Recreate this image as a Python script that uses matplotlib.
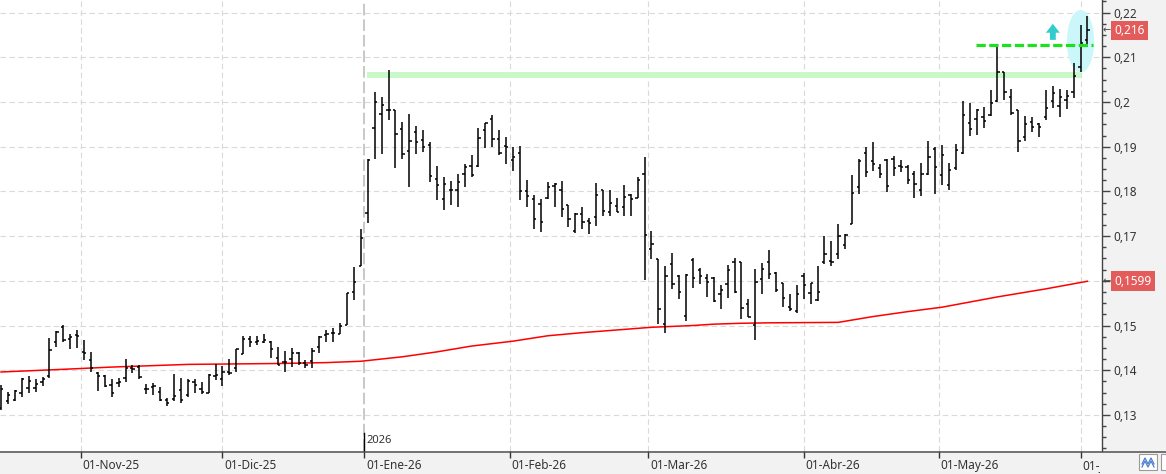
import matplotlib

matplotlib.use("Agg")

import matplotlib.pyplot as plt
import numpy as np
import pandas as pd
from matplotlib.lines import Line2D
from matplotlib.patches import Ellipse, FancyArrow, Rectangle
from matplotlib.ticker import FixedLocator, FuncFormatter, MultipleLocator
from matplotlib.transforms import (Bbox, ScaledTranslation, TransformedBbox,
                                   blended_transform_factory)

plt.rcParams["font.family"] = ["Noto Sans", "DejaVu Sans"]

# trading calendar (Spanish market holidays removed)
HOLIDAYS = ["2025-12-25", "2025-12-26", "2026-01-01", "2026-04-03",
            "2026-04-06", "2026-05-01"]
dates = pd.bdate_range("2025-10-16", "2026-06-02", freq="C", holidays=HOLIDAYS)

opens = [
    0.1315, 0.1330, 0.1333, 0.1349, 0.1360, 0.1360, 0.1374, 0.1387, 0.1464, 0.1497,
    0.1470, 0.1479, 0.1441, 0.1423, 0.1393, 0.1387, 0.1367, 0.1371, 0.1382, 0.1406,
    0.1408, 0.1357, 0.1362, 0.1352, 0.1333, 0.1336, 0.1356, 0.1345, 0.1374, 0.1358,
    0.1350, 0.1387, 0.1380, 0.1396, 0.1405, 0.1436, 0.1470, 0.1464, 0.1464, 0.1464,
    0.1427, 0.1419, 0.1424, 0.1438, 0.1417, 0.1421, 0.1453, 0.1479, 0.1483, 0.1481,
    0.1501, 0.1576, 0.1633, 0.1751, 0.1941, 0.1973, 0.1982, 0.1982, 0.1939, 0.1890,
    0.1934, 0.1915, 0.1904, 0.1828, 0.1782, 0.1803, 0.1803, 0.1840, 0.1857, 0.1857,
    0.1937, 0.1961, 0.1917, 0.1902, 0.1870, 0.1887, 0.1802, 0.1782, 0.1772, 0.1785,
    0.1812, 0.1803, 0.1770, 0.1712, 0.1749, 0.1734, 0.1742, 0.1803, 0.1753, 0.1767,
    0.1764, 0.1792, 0.1786, 0.1840, 0.1671, 0.1649, 0.1503, 0.1637, 0.1611, 0.1521,
    0.1646, 0.1624, 0.1606, 0.1606, 0.1570, 0.1592, 0.1641, 0.1641, 0.1547, 0.1501,
    0.1603, 0.1643, 0.1618, 0.1594, 0.1542, 0.1533, 0.1611, 0.1573, 0.1557, 0.1641,
    0.1645, 0.1659, 0.1680, 0.1727, 0.1810, 0.1885, 0.1868, 0.1852, 0.1870, 0.1872,
    0.1857, 0.1854, 0.1839, 0.1803, 0.1840, 0.1895, 0.1837, 0.1814, 0.1852, 0.1887,
    0.1952, 0.1961, 0.1966, 0.1972, 0.2003, 0.2066, 0.2011, 0.1982, 0.1922, 0.1955,
    0.1951, 0.1966, 0.2003, 0.1992, 0.2004, 0.2023, 0.2078, 0.2139,
]
highs = [
    0.1367, 0.1352, 0.1356, 0.1382, 0.1387, 0.1380, 0.1384, 0.1471, 0.1488, 0.1501,
    0.1480, 0.1490, 0.1468, 0.1441, 0.1397, 0.1389, 0.1380, 0.1382, 0.1424, 0.1412,
    0.1412, 0.1369, 0.1372, 0.1362, 0.1337, 0.1392, 0.1382, 0.1380, 0.1380, 0.1374,
    0.1392, 0.1414, 0.1409, 0.1425, 0.1447, 0.1477, 0.1477, 0.1477, 0.1481, 0.1466,
    0.1453, 0.1443, 0.1450, 0.1441, 0.1423, 0.1449, 0.1477, 0.1490, 0.1494, 0.1506,
    0.1572, 0.1630, 0.1715, 0.1872, 0.2023, 0.2012, 0.2072, 0.1982, 0.1956, 0.1973,
    0.1946, 0.1937, 0.1911, 0.1857, 0.1833, 0.1824, 0.1839, 0.1861, 0.1881, 0.1941,
    0.1954, 0.1971, 0.1937, 0.1921, 0.1899, 0.1902, 0.1826, 0.1792, 0.1782, 0.1822,
    0.1818, 0.1823, 0.1770, 0.1752, 0.1764, 0.1740, 0.1818, 0.1803, 0.1803, 0.1785,
    0.1814, 0.1794, 0.1833, 0.1878, 0.1711, 0.1649, 0.1633, 0.1662, 0.1612, 0.1615,
    0.1651, 0.1629, 0.1615, 0.1609, 0.1591, 0.1635, 0.1650, 0.1641, 0.1559, 0.1626,
    0.1639, 0.1669, 0.1619, 0.1596, 0.1570, 0.1591, 0.1618, 0.1596, 0.1633, 0.1700,
    0.1690, 0.1727, 0.1705, 0.1837, 0.1872, 0.1900, 0.1910, 0.1861, 0.1872, 0.1879,
    0.1870, 0.1859, 0.1846, 0.1864, 0.1913, 0.1899, 0.1904, 0.1864, 0.1905, 0.2003,
    0.1997, 0.1984, 0.1988, 0.2027, 0.2128, 0.2066, 0.2029, 0.1982, 0.1969, 0.1966,
    0.1952, 0.2027, 0.2036, 0.2029, 0.2027, 0.2087, 0.2172, 0.2193,
]
lows = [
    0.1311, 0.1324, 0.1332, 0.1341, 0.1348, 0.1352, 0.1365, 0.1382, 0.1451, 0.1464,
    0.1447, 0.1449, 0.1423, 0.1397, 0.1354, 0.1363, 0.1341, 0.1362, 0.1374, 0.1393,
    0.1380, 0.1346, 0.1345, 0.1330, 0.1321, 0.1330, 0.1326, 0.1341, 0.1350, 0.1347,
    0.1350, 0.1378, 0.1365, 0.1389, 0.1396, 0.1436, 0.1452, 0.1456, 0.1461, 0.1427,
    0.1412, 0.1397, 0.1408, 0.1412, 0.1404, 0.1404, 0.1438, 0.1462, 0.1462, 0.1480,
    0.1501, 0.1557, 0.1632, 0.1730, 0.1872, 0.1884, 0.1960, 0.1853, 0.1872, 0.1810,
    0.1883, 0.1889, 0.1822, 0.1781, 0.1758, 0.1770, 0.1764, 0.1810, 0.1832, 0.1855,
    0.1896, 0.1900, 0.1881, 0.1861, 0.1846, 0.1781, 0.1764, 0.1717, 0.1710, 0.1782,
    0.1764, 0.1743, 0.1721, 0.1706, 0.1715, 0.1704, 0.1723, 0.1746, 0.1746, 0.1753,
    0.1746, 0.1746, 0.1785, 0.1602, 0.1648, 0.1503, 0.1484, 0.1582, 0.1559, 0.1511,
    0.1585, 0.1592, 0.1564, 0.1552, 0.1538, 0.1561, 0.1573, 0.1515, 0.1518, 0.1468,
    0.1570, 0.1604, 0.1576, 0.1542, 0.1533, 0.1529, 0.1559, 0.1548, 0.1555, 0.1637,
    0.1634, 0.1649, 0.1671, 0.1726, 0.1794, 0.1832, 0.1846, 0.1829, 0.1798, 0.1835,
    0.1844, 0.1816, 0.1785, 0.1790, 0.1837, 0.1794, 0.1814, 0.1803, 0.1848, 0.1884,
    0.1924, 0.1926, 0.1941, 0.1969, 0.2001, 0.2004, 0.1972, 0.1889, 0.1913, 0.1932,
    0.1921, 0.1960, 0.1987, 0.1967, 0.1984, 0.2010, 0.2066, 0.2123,
]
closes = [
    0.1358, 0.1345, 0.1353, 0.1380, 0.1376, 0.1369, 0.1380, 0.1445, 0.1485, 0.1468,
    0.1474, 0.1477, 0.1439, 0.1404, 0.1387, 0.1365, 0.1348, 0.1374, 0.1406, 0.1403,
    0.1384, 0.1358, 0.1364, 0.1333, 0.1326, 0.1342, 0.1333, 0.1376, 0.1367, 0.1352,
    0.1389, 0.1389, 0.1396, 0.1394, 0.1447, 0.1470, 0.1464, 0.1465, 0.1468, 0.1447,
    0.1412, 0.1419, 0.1438, 0.1417, 0.1412, 0.1443, 0.1475, 0.1481, 0.1484, 0.1499,
    0.1572, 0.1597, 0.1695, 0.1870, 0.1999, 0.1993, 0.1982, 0.1928, 0.1883, 0.1913,
    0.1911, 0.1900, 0.1835, 0.1814, 0.1817, 0.1803, 0.1820, 0.1855, 0.1837, 0.1919,
    0.1952, 0.1917, 0.1887, 0.1899, 0.1876, 0.1801, 0.1790, 0.1738, 0.1731, 0.1810,
    0.1817, 0.1760, 0.1738, 0.1749, 0.1731, 0.1730, 0.1792, 0.1756, 0.1773, 0.1754,
    0.1787, 0.1782, 0.1826, 0.1702, 0.1682, 0.1536, 0.1611, 0.1592, 0.1574, 0.1613,
    0.1606, 0.1611, 0.1597, 0.1555, 0.1579, 0.1624, 0.1574, 0.1540, 0.1520, 0.1597,
    0.1626, 0.1615, 0.1579, 0.1561, 0.1538, 0.1570, 0.1591, 0.1594, 0.1574, 0.1659,
    0.1643, 0.1701, 0.1702, 0.1797, 0.1868, 0.1843, 0.1861, 0.1840, 0.1812, 0.1853,
    0.1855, 0.1826, 0.1816, 0.1840, 0.1876, 0.1854, 0.1881, 0.1848, 0.1893, 0.1972,
    0.1940, 0.1981, 0.1958, 0.1997, 0.2066, 0.2022, 0.1976, 0.1913, 0.1950, 0.1943,
    0.1943, 0.1986, 0.2021, 0.2011, 0.2013, 0.2059, 0.2131, 0.2160,
]

# moving average (bar number, value)
ma_bar = [0, 9, 16, 27, 40, 47, 52, 58, 63, 68, 74, 79, 84, 89, 94, 100, 103,
          107, 111, 121, 126, 131, 136, 144, 151, 157]
ma_val = [0.1396, 0.1402, 0.1407, 0.1413, 0.1415, 0.1417, 0.1420, 0.1430,
          0.1441, 0.1454, 0.1465, 0.1477, 0.1484, 0.1490, 0.1496, 0.1500,
          0.1503, 0.1505, 0.1506, 0.1507, 0.1520, 0.1531, 0.1541, 0.1564,
          0.1582, 0.1599]

resistance_band = (0.2054, 0.2068)
breakout_level = 0.2128
y_ticks = [0.13, 0.14, 0.15, 0.16, 0.17, 0.18, 0.19, 0.20, 0.21, 0.22]
MESES = {1: "Ene", 2: "Feb", 3: "Mar", 4: "Abr", 5: "May", 6: "Jun",
         7: "Jul", 8: "Ago", 9: "Sep", 10: "Oct", 11: "Nov", 12: "Dic"}

assert len(dates) == len(opens) == len(highs) == len(lows) == len(closes)

W, H = 1166, 474
BG = "#f2f2f2"
fig = plt.figure(figsize=(W / 100, H / 100), dpi=100, facecolor=BG)
ax = fig.add_axes([0, 23 / H, 1102 / W, 451 / H])
ax.set_facecolor("white")

x = np.arange(len(dates))
o, hi, lo, c = map(np.asarray, (opens, highs, lows, closes))

# month ticks: on the 1st if it trades, else between bars
month_starts = pd.date_range("2025-11-01", "2026-06-01", freq="MS")
tick_pos, tick_lab = [], []
for m in month_starts:
    i = dates.searchsorted(m)
    tick_pos.append(i if dates[i] == m else i - 0.5)
    tick_lab.append(f"01-{MESES[m.month]}-{m.strftime('%y')}")
year_pos = tick_pos[[m.month for m in month_starts].index(1)]

grid_kw = dict(color="#dadada", lw=0.8, linestyle=(0, (5, 3)), zorder=0)
for yv in y_ticks:
    ax.axhline(yv, **grid_kw)
for p in tick_pos:
    if p != year_pos:
        ax.axvline(p, **grid_kw)
ax.axvline(year_pos, color="#c8c8c8", lw=1.4, linestyle=(0, (6, 2)), zorder=0)

# resistance band, breakout highlight
ax.fill_between([52.9, 156.0], *resistance_band, color="#c9f9c9", lw=0, zorder=1)
ax.add_patch(Ellipse((156.0, 0.21358), 3.95, 0.0140, fc="#ccf7fa", ec="none",
                     zorder=1))

# OHLC bars
tw = 0.33
ax.vlines(x, lo, hi, color="black", lw=1.1, zorder=3)
ax.hlines(o, x - tw, x, color="black", lw=1.1, zorder=3)
ax.hlines(c, x, x + tw, color="black", lw=1.1, zorder=3)

ax.plot(ma_bar, ma_val, color="#ff0000", lw=1.1, zorder=2)

ax.plot([140.9, 157.8], [breakout_level] * 2, color="#1ee01e", lw=2.3,
        dashes=(2.9, 1.1), zorder=4)
ax.add_patch(FancyArrow(152.0, 0.2139, 0, 0.0036, width=0.85, head_width=2.0,
                        head_length=0.0020, length_includes_head=True,
                        fc="#33cccc", ec="none", zorder=4))

ax.set_xlim(-0.145, -0.145 + 1102 / 6.92)
ax.set_ylim(0.121925, 0.222819)

for side in ("top", "left", "bottom"):
    ax.spines[side].set_visible(False)
ax.spines["right"].set_color("#444444")
ax.spines["right"].set_linewidth(1.0)

flags = [closes[-1], ma_val[-1]]


def price_label(v, _):
    # the price flags cover the regular label underneath
    if any(abs(v - f) < 0.003 for f in flags):
        return ""
    return f"{v:g}".replace(".", ",")


ax.yaxis.tick_right()
ax.yaxis.set_major_locator(FixedLocator(y_ticks))
ax.yaxis.set_minor_locator(MultipleLocator(0.0025))
ax.yaxis.set_major_formatter(FuncFormatter(price_label))
ax.tick_params(axis="y", which="major", length=6, width=1, color="#444444",
               labelsize=8.5, labelcolor="#333333", pad=2.5)
ax.tick_params(axis="y", which="minor", length=3, width=1, color="#444444")

ax.set_xticks(tick_pos)
ax.set_xticklabels(tick_lab)
ax.tick_params(axis="x", length=5, width=1, color="#333333", labelsize=8.5,
               labelcolor="#333333", pad=1)
clip = TransformedBbox(Bbox([[0, 0], [1100 / W, 1]]), fig.transFigure)
for lbl in ax.get_xticklabels():
    lbl.set_ha("left")
    lbl.set_transform(lbl.get_transform()
                      + ScaledTranslation(1.5 / 72, 0, fig.dpi_scale_trans))
    lbl.set_clip_box(clip)
    lbl.set_clip_on(True)

# year marker
bt = blended_transform_factory(ax.transData, ax.transAxes)
ax.plot([year_pos, year_pos], [0, 0.04], color="black", lw=1, transform=bt,
        clip_on=False, zorder=5)
ax.text(year_pos + 0.25, 0.01, "2026", transform=bt, fontsize=8,
        color="#333333", va="bottom", ha="left")

# price flags on the right axis
rt = blended_transform_factory(ax.transAxes, ax.transData)
for val, txt in ((closes[-1], f"{closes[-1]:.3f}"), (ma_val[-1], f"{ma_val[-1]:.4f}")):
    ax.text(1114 / 1102, val, txt.replace(".", ","), transform=rt, fontsize=8.5,
            color="white", va="center", ha="left", clip_on=False, zorder=6,
            bbox=dict(boxstyle="square,pad=0.28", fc="#e35b5b", ec="none"))
    ax.text(1103 / 1102, val, "\u2190", transform=rt, fontsize=7,
            color="#444444", va="center", ha="left", clip_on=False,
            family="DejaVu Sans")

# separator between chart and date strip
fig.add_artist(Line2D([0, 1], [22.5 / H, 22.5 / H], transform=fig.transFigure,
                      color="#505050", lw=1.1))

# small toolbar buttons in the corner
fig.add_artist(Rectangle((1139 / W, 4 / H), 18 / W, 16 / H,
                         transform=fig.transFigure, fc="white", ec="#9a9a9a",
                         lw=0.8))
for base in (10, 7):
    fig.add_artist(Line2D(np.array([1142, 1145, 1148, 1151, 1154]) / W,
                          np.array([base, base + 6, base, base + 6, base]) / H,
                          transform=fig.transFigure, color="#4a7fd0", lw=0.9))
fig.add_artist(Rectangle((1161 / W, 4 / H), 12 / W, 16 / H,
                         transform=fig.transFigure, fc="white", ec="#9a9a9a",
                         lw=0.8))

fig.savefig("out.png", dpi=100, facecolor=BG)
